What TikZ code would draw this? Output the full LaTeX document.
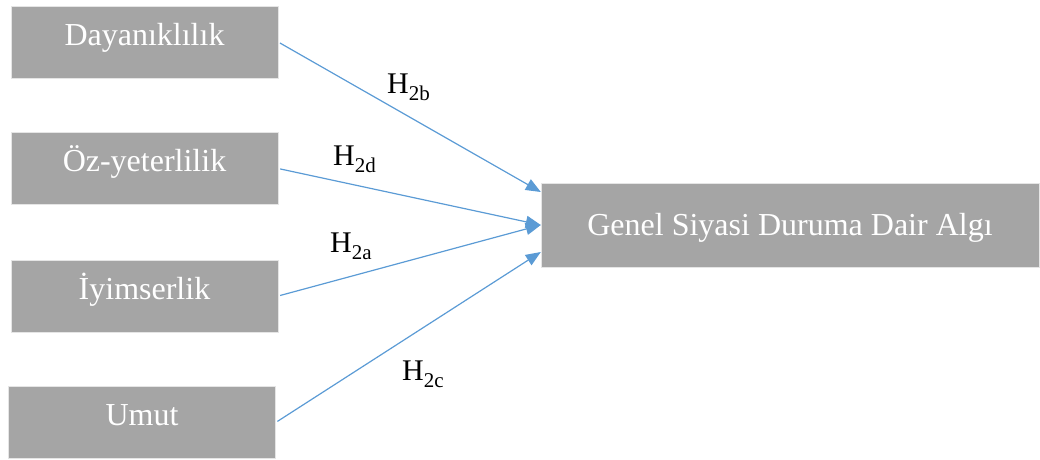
\documentclass[tikz,border=0pt]{standalone}
\usepackage{fontspec}
\setmainfont{Liberation Serif}
\usetikzlibrary{arrows.meta, calc}
\definecolor{boxgray}{HTML}{A5A5A5}
\definecolor{arrowblue}{HTML}{5B9BD5}
\newcommand{\hsub}[1]{H\raisebox{-7pt}{\fontsize{21}{21}\selectfont #1}}

\begin{document}
\begin{tikzpicture}[%
    x=1pt,y=-1pt,
    box/.style={
      fill=boxgray,
      draw=gray!20,
      text=white,
      font=\fontsize{32}{38}\selectfont,
      inner sep=0,
      text height=22pt,
      text depth=16pt,
      minimum height=72pt,
      minimum width=267pt
    },
    link/.style={
      draw=arrowblue,
      line width=1.2pt,
      -{Triangle[length=15pt,width=12pt,fill=arrowblue]},
      shorten <=2pt
    },
    hyp/.style={anchor=base west,inner sep=0,font=\fontsize{30}{36}\selectfont}]
    \useasboundingbox (0,0) rectangle (1040,459);
    \node[box] at (144.5,42) (1) {Dayanıklılık};
    \node[box] at (144.5,168.5) (2) {Öz-yeterlilik};
    \node[box] at (144.5,296) (3) {İyimserlik};
    \node[box] at (142,422.5) (4) {Umut};
    \node[box,minimum width=498pt,minimum height=84pt,text height=24pt,text depth=4pt]
        at (790,225) (5) {Genel Siyasi Duruma Dair Algı};

    \draw[link] (1.east) -- ($(5.west)+(0,-33)$);
    \draw[link] (2.east) -- (5.west);
    \draw[link] (3.east) -- (5.west);
    \draw[link] (4.east) -- ($(5.west)+(0,27)$);

    \node[hyp] at (387,93) (h2b) {\hsub{2b}};
    \node[hyp] at (333,165) (h2d) {\hsub{2d}};
    \node[hyp] at (330,252) (h2a) {\hsub{2a}};
    \node[hyp] at (402,380) (h2c) {\hsub{2c}};
\end{tikzpicture}
\end{document}
